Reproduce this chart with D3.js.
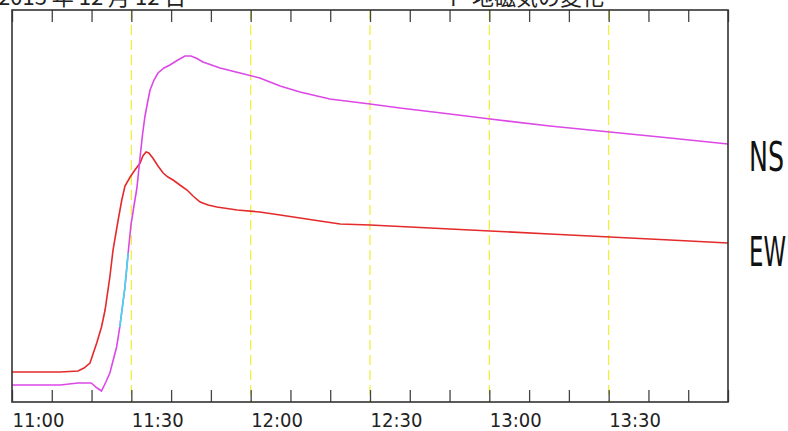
<!DOCTYPE html>
<html>
<head>
<meta charset="utf-8">
<script src="https://cdn.jsdelivr.net/npm/d3@7"></script>
<style>
  body { margin: 0; background: #fff; }
  svg { display: block; }
</style>
</head>
<body>
<svg width="788" height="431"></svg>
<script>
// minutes after 11:00, readings in chart units (arbitrary, no y axis shown)
var nsTimes = [0, 12.1, 16.6, 19.9, 21.4, 22.5, 23.6, 24.6, 26.3, 27.1, 28.4, 29.2, 29.9, 30.7, 31.4, 32.2, 32.8, 33.4, 34.1, 34.7, 35.7, 36.7, 38.2, 39.7, 41.7, 43.5, 45.0, 46.5, 48.0, 52.3, 57.3, 62.3, 67.4, 72.4, 79.9, 90.0, 97.5, 110.1, 120.2, 135.2, 150.3, 165.4, 180];
var nsValues = [17, 17, 19, 19, 14, 11, 20, 29, 55, 75, 115, 149, 177, 197, 214, 245, 267, 285, 300, 312, 322, 329, 334, 337, 342, 346, 346, 343.5, 340, 334, 329, 324, 316, 310, 303, 298, 294, 288, 283, 276, 270, 264, 258];

var ewTimes = [0, 12.1, 16.6, 18.1, 19.6, 21.3, 22.5, 23.4, 24.6, 25.4, 26.6, 27.6, 28.4, 29.7, 30.9, 32.2, 32.9, 33.7, 34.4, 35.4, 36.7, 38.0, 39.2, 40.5, 42.2, 44.0, 45.5, 47.3, 49.3, 51.5, 56.6, 62.3, 67.4, 72.4, 77.4, 82.5, 90.0, 100.1, 110.1, 120.2, 135.2, 150.3, 165.4, 180];
var ewValues = [30, 30, 31, 34, 39, 59, 75, 92, 125, 152, 180, 202, 216, 225, 232, 239, 246, 250, 249, 244, 236, 229, 225, 222, 217, 212, 206, 200, 197, 195, 192, 190, 187, 184, 181, 178, 177, 175, 173, 171, 168, 165, 162, 159];

// part of the NS trace drawn in cyan
var nsCyanRange = [27.1, 29.2];

var tickMinutes = d3.range(0, 181, 10);
var gridMinutes = [30, 60, 90, 120, 150];
var seriesLabels = ["NS", "EW"];
var titleLeft = "2013 年 12 月 12 日";
var titleRight = "ト 地磁気の変化";

var svg = d3.select("svg");
var x = d3.scaleLinear().domain([0, 180]).range([12, 728]);
var y = d3.scaleLinear().domain([0, 392]).range([402, 10]);

function clock(m) {
    var h = 11 + Math.floor(m / 60), mm = m % 60;
    return h + ":" + (mm < 10 ? "0" : "") + mm;
}

// cut-off title at the very top
svg.append("text").attr("x", -2).attr("y", 5)
    .attr("font-family", "Noto Sans CJK JP, sans-serif").attr("font-size", 22)
    .attr("fill", "#222").style("white-space", "pre")
    .text(titleLeft);
svg.append("text").attr("x", 445).attr("y", 5)
    .attr("font-family", "Noto Sans CJK JP, sans-serif").attr("font-size", 22)
    .attr("fill", "#222").style("white-space", "pre")
    .text(titleRight);

// dashed yellow grid
svg.append("g").selectAll("line").data(gridMinutes).enter().append("line")
    .attr("x1", function(d) { return x(d); }).attr("x2", function(d) { return x(d); })
    .attr("y1", y(392)).attr("y2", y(0))
    .attr("stroke", "#eeee30").attr("stroke-width", 1.2)
    .attr("stroke-dasharray", "10,5");

// traces
var line = d3.line()
    .x(function(d) { return x(d[0]); })
    .y(function(d) { return y(d[1]); });

var ns = d3.zip(nsTimes, nsValues);
var ew = d3.zip(ewTimes, ewValues);

svg.append("path").datum(ew)
    .attr("d", line).attr("fill", "none")
    .attr("stroke", "#e42a2a").attr("stroke-width", 1.6);

svg.append("path").datum(ns)
    .attr("d", line).attr("fill", "none")
    .attr("stroke", "#dc48e6").attr("stroke-width", 1.6);

svg.append("path").datum(ns.filter(function(d) { return d[0] >= nsCyanRange[0] && d[0] <= nsCyanRange[1]; }))
    .attr("d", line).attr("fill", "none")
    .attr("stroke", "#3cdcf0").attr("stroke-width", 1.6);

// frame + axes
var bottomAxis = d3.axisBottom(x).tickValues(tickMinutes).tickSize(-12).tickPadding(16)
    .tickFormat(function(d) { return d % 30 === 0 && d < 180 ? clock(d) : ""; });
var gb = svg.append("g").attr("transform", "translate(0," + y(0) + ")").call(bottomAxis);
gb.select(".domain").remove();
gb.selectAll(".tick line").attr("stroke", "#444").attr("stroke-width", 1.3);
gb.selectAll(".tick text")
    .attr("text-anchor", "start").attr("dy", 0).attr("y", 25)
    .attr("font-family", "Liberation Sans Narrow, DejaVu Sans Condensed, sans-serif")
    .attr("font-size", 20).attr("fill", "#222");

var topAxis = d3.axisTop(x).tickValues(tickMinutes).tickSize(-12).tickFormat("");
var gt = svg.append("g").attr("transform", "translate(0," + y(392) + ")").call(topAxis);
gt.select(".domain").remove();
gt.selectAll(".tick line").attr("stroke", "#444").attr("stroke-width", 1.3);

svg.append("rect")
    .attr("x", x(0)).attr("y", y(392))
    .attr("width", x(180) - x(0)).attr("height", y(0) - y(392))
    .attr("fill", "none").attr("stroke", "#333").attr("stroke-width", 1.6);

// series labels at right
svg.append("g").selectAll("text").data(seriesLabels).enter().append("text")
    .attr("x", 749)
    .attr("y", function(d, i) { return i === 0 ? y(nsValues[nsValues.length - 1]) + 27 : y(ewValues[ewValues.length - 1]) + 23; })
    .attr("font-family", "Liberation Sans Narrow, DejaVu Sans Condensed, sans-serif")
    .attr("font-size", 40).attr("fill", "#111")
    .attr("textLength", function(d) { return d === "NS" ? 35 : 37; })
    .attr("lengthAdjust", "spacingAndGlyphs")
    .text(function(d) { return d; });
</script>
</body>
</html>
